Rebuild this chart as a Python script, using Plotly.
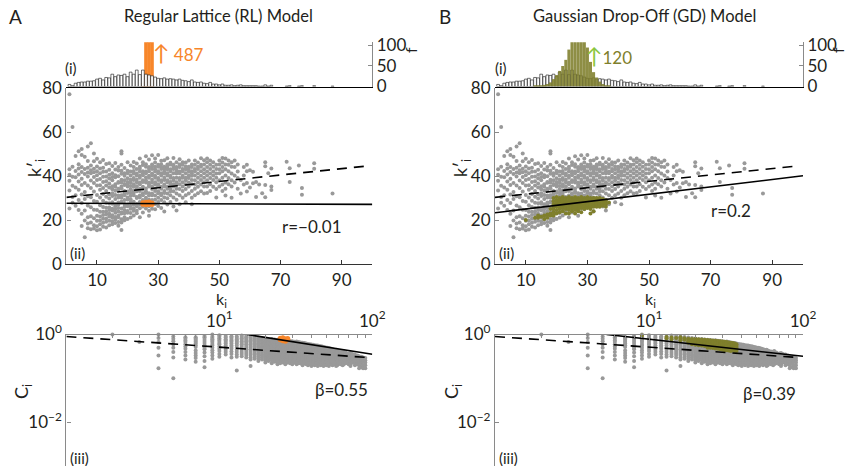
import plotly.graph_objects as go

# ---------------- data ----------------
# (i) degree histogram of the empirical network (white bars)
hist_k = list(range(1, 60)) + [60, 61, 62, 63, 64, 65, 66, 67, 72, 73, 76, 77, 81, 87]
hist_counts = [5, 2, 8, 10, 11, 11, 13, 13, 14, 18,
               20, 16, 22, 21, 30, 24, 28, 27, 30, 24,
               35, 30, 40, 29, 40, 30, 28, 26, 23, 20,
               19, 21, 18, 19, 18, 16, 18, 15, 14, 12,
               16, 11, 10, 11, 8, 7, 10, 6, 6, 4,
               6, 3, 3, 4, 2, 3, 4, 2, 2,
               2, 2, 2, 1, 1, 4, 1, 3, 1, 2, 1, 2, 2, 1]
# RL model degree histogram (orange)
rl_hist_k = [25, 26, 27, 28]
rl_hist_counts = [8, 310, 487, 190]
# GD model degree histogram (olive)
gd_hist_k = list(range(13, 38))
gd_hist_counts = [1, 2, 3, 4, 6, 10, 18, 28, 38, 50, 65, 90, 115, 120, 120,
                  118, 110, 95, 60, 35, 22, 12, 6, 3, 1]

# (ii) mean neighbour degree k'_i vs degree k_i (grey, empirical)
knn_k = list(range(1, 68)) + [72, 73, 76, 77, 81, 87]
knn_vals = [
    [77.2, 43.1, 40.6, 37.8, 33.4, 25.2],
    [62.3, 44.2, 39.7, 35.6, 30.4, 27.8],
    [49.1, 42.3, 39.4, 34.8, 31.2, 26.5],
    [51.2, 45.3, 43.4, 40.7, 37.5, 33.8, 29.1, 24.6],
    [52.3, 49.6, 44.1, 41.8, 38.7, 35.9, 31.6, 27.7, 22.8, 17.3],
    [48.7, 43.2, 40.9, 36.8, 32.7, 29.6, 24.3, 19.8, 12.2],
    [53.4, 46.8, 43.7, 41.6, 39.8, 35.7, 30.8, 26.6, 21.3, 16.2, 18.4],
    [54.9, 44.8, 42.6, 41.2, 37.9, 34.6, 30.3, 25.8, 21.7, 18.9, 15.8],
    [50.2, 46.7, 43.3, 41.7, 39.6, 36.8, 32.9, 28.6, 24.7, 20.8, 17.6, 16.1],
    [47.8, 44.3, 42.2, 40.3, 38.2, 35.7, 31.4, 28.3, 24.6, 21.9, 19.7, 17.2, 15.3],
    [46.2, 43.4, 41.3, 38.6, 35.8, 33.7, 30.2, 26.7, 23.8, 21.6, 19.8, 18.1, 15.7],
    [47.3, 43.8, 41.9, 39.7, 37.3, 34.6, 31.8, 28.7, 25.9, 23.7, 22.3, 20.6, 18.8, 16.9],
    [45.4, 42.1, 39.8, 37.6, 35.7, 33.2, 30.6, 27.8, 25.6, 23.9, 22.6, 20.7, 19.2, 16.6],
    [45.8, 42.8, 40.6, 38.9, 36.6, 34.8, 31.7, 29.8, 27.6, 25.7, 24.6, 22.8, 21.6, 19.7, 17.6],
    [44.6, 41.2, 39.5, 38.1, 35.3, 34.0, 32.2, 30.9, 28.1, 27.4, 25.1, 24.3, 22.2, 21.0, 19.3, 18.1],
    [45.9, 43.0, 40.3, 39.4, 36.2, 35.1, 33.3, 31.4, 29.5, 27.2, 26.3, 24.9, 23.3, 21.4, 20.2, 18.6],
    [44.1, 42.5, 39.9, 37.3, 36.9, 34.2, 33.9, 31.1, 30.2, 28.0, 27.1, 25.5, 23.9, 22.0, 21.3, 19.1, 17.4],
    [51.3, 50.2, 45.1, 42.4, 41.0, 38.3, 37.1, 35.2, 34.4, 31.2, 30.1, 28.3, 27.9, 25.2, 23.4, 22.9, 20.3, 18.9, 15.4],
    [43.6, 41.3, 40.1, 38.1, 36.4, 35.9, 33.2, 32.0, 31.2, 29.1, 27.3, 26.0, 24.4, 23.1, 21.2, 19.9],
    [46.2, 42.4, 41.2, 39.0, 37.3, 36.1, 35.2, 33.0, 32.3, 30.2, 29.3, 27.1, 26.2, 24.1, 23.3, 20.4],
    [44.8, 42.0, 40.2, 38.3, 37.0, 35.4, 34.0, 32.4, 31.0, 29.4, 28.1, 26.4, 25.1, 23.2, 21.1],
    [46.4, 44.1, 42.3, 41.1, 39.1, 38.2, 36.2, 35.1, 33.2, 32.4, 31.2, 28.3, 27.1, 25.3, 24.2, 22.1],
    [45.7, 43.2, 41.1, 40.2, 38.3, 37.2, 35.3, 34.1, 33.1, 30.4, 30.0, 27.3, 26.2, 24.2, 23.1],
    [48.0, 44.2, 43.3, 42.1, 40.1, 39.2, 37.1, 36.3, 34.2, 33.2, 31.1, 30.2, 28.2, 27.1, 25.3, 21.3],
    [46.2, 45.0, 42.2, 41.3, 40.3, 38.1, 37.3, 35.1, 34.1, 32.2, 31.3, 29.1, 28.1, 26.1, 23.4],
    [49.0, 45.3, 44.2, 42.1, 41.2, 39.3, 38.1, 37.1, 34.3, 33.1, 32.3, 30.1, 29.2, 27.2, 25.2],
    [47.5, 44.1, 43.3, 42.2, 40.1, 39.2, 37.0, 36.1, 35.2, 32.2, 31.1, 29.2, 28.0, 26.3, 24.2, 21.9],
    [49.4, 45.2, 44.3, 43.2, 41.1, 40.2, 38.3, 37.1, 35.2, 34.1, 32.1, 31.2, 29.1, 27.2, 25.1],
    [47.9, 46.1, 44.2, 43.1, 42.1, 40.1, 39.2, 37.2, 36.1, 34.2, 33.2, 31.1, 29.2, 27.3, 24.9],
    [49.6, 45.1, 44.2, 42.2, 41.2, 39.1, 38.2, 36.2, 35.3, 33.1, 32.2, 30.1, 28.2, 26.4],
    [46.9, 45.3, 44.1, 43.2, 41.3, 40.2, 38.1, 37.3, 35.1, 34.2, 32.1, 31.2, 29.1, 25.4],
    [47.2, 44.2, 43.3, 42.1, 41.1, 39.2, 38.2, 36.1, 35.2, 33.2, 32.3, 30.2, 28.1, 23.9],
    [48.1, 45.2, 44.2, 43.1, 41.2, 40.2, 38.1, 37.2, 35.1, 34.2, 32.1, 29.9, 27.1],
    [46.0, 45.2, 43.1, 42.2, 40.1, 39.2, 37.3, 36.1, 34.2, 33.1, 31.2, 28.2],
    [48.2, 45.1, 44.2, 43.2, 41.2, 39.1, 38.1, 36.2, 35.2, 33.1, 30.2, 26.1],
    [46.2, 44.1, 43.2, 42.1, 41.1, 39.2, 37.2, 36.1, 34.2, 32.1, 29.2, 24.3],
    [47.6, 45.2, 44.1, 42.1, 41.2, 39.1, 38.2, 36.2, 34.1, 31.2, 27.2],
    [46.2, 45.1, 43.2, 42.2, 40.1, 39.2, 37.2, 35.2, 33.2, 30.1],
    [46.1, 44.3, 43.1, 41.2, 39.2, 38.1, 36.2, 34.1, 31.2, 28.1],
    [47.1, 44.2, 43.2, 42.1, 40.2, 39.1, 37.1, 35.2, 32.1],
    [45.2, 44.1, 42.2, 41.2, 40.1, 38.2, 36.2, 33.2, 30.1, 27.2],
    [47.0, 45.1, 43.2, 42.2, 40.2, 38.1, 36.1, 34.2, 31.2],
    [46.1, 44.2, 43.2, 41.1, 39.2, 37.1, 35.1, 32.2],
    [48.1, 45.1, 44.2, 42.2, 40.1, 38.2, 36.1, 33.1],
    [47.2, 45.2, 43.1, 41.2, 39.2, 37.2, 35.2, 32.1],
    [48.0, 46.2, 44.1, 42.1, 40.2, 38.1, 35.2, 32.3],
    [47.1, 45.1, 43.2, 41.1, 39.1, 36.2, 33.2],
    [46.2, 44.2, 42.1, 40.2, 38.2, 35.1],
    [45.1, 43.2, 41.1, 39.2, 37.2, 34.1, 30.2],
    [47.1, 45.2, 43.1, 41.2, 38.1, 35.2],
    [48.2, 46.1, 44.1, 42.2, 39.2, 36.1, 33.2],
    [48.0, 45.2, 43.1, 40.2, 37.1, 34.2, 31.1],
    [47.1, 45.1, 42.2, 39.1, 36.2],
    [46.2, 44.2, 41.1, 38.1, 35.2, 30.1],
    [47.1, 44.1, 40.2, 37.1],
    [45.2, 42.1, 39.1, 34.2],
    [38.2, 32.1],
    [44.1, 40.2, 36.1],
    [45.1, 42.2, 36.8, 32.9],
    [42.6, 34.8],
    [41.9, 36.7],
    [37.3, 30.4],
    [36.1],
    [32.2],
    [46.3, 44.4, 35.9, 30.3],
    [41.2],
    [43.4, 35.2, 33.6],
    [46.5], [43.5, 37.3], [44.8], [34.5, 31.5], [45.8, 43.3], [32.0],
]
# RL model nodes (orange) and GD model nodes (olive)
rl_k = [25, 25, 26, 26, 26, 27, 27, 27, 28, 28]
rl_knn = [27.2, 27.8, 26.9, 27.5, 28.1, 27.0, 27.6, 28.2, 27.1, 27.7]
gd_k_cols = [10, 13, 14, 15, 16, 17, 18, 19, 20, 21, 22, 23, 24, 25, 26, 27,
             28, 29, 30, 31, 32, 33, 34, 35, 36, 37]
gd_knn_vals = [
    [20], [21], [21, 22], [21.5], [22, 20.5], [22.5, 21], [23, 22, 25],
    [30, 28.5, 27, 26, 25, 23.5, 22],
    [30.5, 29, 28, 27, 26, 24.5, 23],
    [30, 29, 28, 27, 26, 25, 23.5],
    [30.5, 29.5, 28.5, 27.5, 26.5, 25.5, 24],
    [30, 29, 28, 27, 26, 25, 23],
    [30.5, 29.5, 28.5, 27.5, 26.5, 25.5, 24.5, 23],
    [30, 29, 28, 27, 26, 25, 24],
    [30.5, 29.5, 28.5, 27.5, 26.5, 25.5, 24.5, 23],
    [30, 29, 28, 27, 26, 25, 24],
    [30.5, 29.5, 28.5, 27.5, 26.5, 25.5, 23.5],
    [30, 29, 28, 27, 26, 25],
    [30.5, 29.5, 28.5, 27.5, 26.5, 25.5],
    [30, 29, 28, 27, 26, 25, 23],
    [30, 29, 28, 27, 26, 24],
    [30, 29, 28, 27, 26],
    [30, 29, 28, 27, 26],
    [29.5, 28.5, 27.5, 26.5],
    [29, 28, 27, 26],
    [28],
]

# (iii) clustering coefficient C_i vs k_i (grey, empirical)
clu_k = list(range(2, 61)) + [62, 64, 65, 67, 70, 72, 74, 77, 80, 82, 85, 87, 90]
clu_vals = [
    [1.0], [0.67],
    [1.0, 0.83, 0.67, 0.5, 0.33, 0.17],
    [0.9, 0.8, 0.7, 0.6, 0.5, 0.4, 0.3, 0.1],
    [0.87, 0.8, 0.73, 0.67, 0.6, 0.53, 0.47, 0.4, 0.33, 0.27],
    [0.86, 0.81, 0.76, 0.71, 0.67, 0.62, 0.57, 0.52, 0.43, 0.38, 0.33, 0.29, 0.24],
    [0.93, 0.86, 0.79, 0.71, 0.64, 0.57, 0.5, 0.46, 0.39, 0.32, 0.25, 0.18],
    [1.0, 0.89, 0.83, 0.78, 0.72, 0.67, 0.61, 0.56, 0.5, 0.44, 0.39, 0.33, 0.28],
    [0.96, 0.89, 0.82, 0.76, 0.71, 0.64, 0.6, 0.53, 0.47, 0.42, 0.36, 0.31],
    [0.93, 0.85, 0.78, 0.73, 0.67, 0.62, 0.56, 0.51, 0.45, 0.4, 0.35],
    [0.91, 0.85, 0.79, 0.73, 0.68, 0.62, 0.56, 0.52, 0.47, 0.41, 0.36, 0.3],
    [0.9, 0.83, 0.77, 0.72, 0.67, 0.62, 0.56, 0.5, 0.45, 0.4, 0.35, 0.31, 0.15],
    [0.95, 0.88, 0.82, 0.76, 0.7, 0.65, 0.6, 0.55, 0.5, 0.45, 0.4, 0.36, 0.32],
    [0.92, 0.86, 0.8, 0.75, 0.7, 0.65, 0.6, 0.55, 0.5, 0.46, 0.42, 0.38, 0.34, 0.3],
    [0.9, 0.84, 0.79, 0.74, 0.69, 0.64, 0.59, 0.55, 0.5, 0.46, 0.42, 0.38, 0.34, 0.3, 0.27, 0.19],
    [0.88, 0.82, 0.77, 0.72, 0.67, 0.63, 0.58, 0.54, 0.5, 0.46, 0.42, 0.38, 0.35, 0.31, 0.28],
    [0.85, 0.79, 0.73, 0.68, 0.64, 0.6, 0.56, 0.52, 0.48, 0.44, 0.41, 0.37, 0.34, 0.31, 0.28, 0.25],
    [0.83, 0.77, 0.72, 0.67, 0.63, 0.58, 0.54, 0.51, 0.47, 0.43, 0.4, 0.36, 0.33, 0.3, 0.27],
    [0.81, 0.75, 0.7, 0.66, 0.61, 0.57, 0.53, 0.49, 0.46, 0.42, 0.39, 0.35, 0.32, 0.29, 0.26, 0.23],
    [0.78, 0.73, 0.68, 0.64, 0.59, 0.55, 0.52, 0.48, 0.44, 0.41, 0.37, 0.34, 0.31, 0.28, 0.25],
    [0.79, 0.74, 0.69, 0.65, 0.6, 0.56, 0.53, 0.49, 0.45, 0.42, 0.38, 0.35, 0.32, 0.29, 0.26, 0.22],
    [0.77, 0.71, 0.67, 0.62, 0.58, 0.54, 0.51, 0.47, 0.43, 0.4, 0.36, 0.33, 0.3, 0.27, 0.24],
    [0.76, 0.7, 0.66, 0.61, 0.57, 0.53, 0.5, 0.46, 0.42, 0.39, 0.36, 0.33, 0.3, 0.27, 0.23, 0.21],
    [0.75, 0.7, 0.65, 0.61, 0.57, 0.53, 0.49, 0.46, 0.43, 0.39, 0.36, 0.33, 0.3, 0.27, 0.24, 0.22],
    [0.73, 0.68, 0.64, 0.6, 0.56, 0.52, 0.48, 0.45, 0.41, 0.38, 0.35, 0.32, 0.29, 0.26, 0.23],
    [0.74, 0.69, 0.64, 0.6, 0.56, 0.52, 0.49, 0.45, 0.42, 0.39, 0.36, 0.33, 0.3, 0.27, 0.24, 0.21],
    [0.72, 0.67, 0.63, 0.59, 0.55, 0.51, 0.47, 0.44, 0.41, 0.38, 0.35, 0.32, 0.29, 0.26, 0.23],
    [0.71, 0.66, 0.62, 0.58, 0.54, 0.5, 0.47, 0.43, 0.4, 0.37, 0.34, 0.31, 0.28, 0.25, 0.22],
    [0.7, 0.65, 0.61, 0.57, 0.53, 0.49, 0.45, 0.42, 0.39, 0.36, 0.33, 0.3, 0.27, 0.24, 0.21],
    [0.68, 0.64, 0.6, 0.56, 0.52, 0.48, 0.45, 0.41, 0.38, 0.35, 0.32, 0.29, 0.26, 0.23],
    [0.69, 0.64, 0.6, 0.56, 0.52, 0.48, 0.44, 0.41, 0.38, 0.35, 0.32, 0.29, 0.26, 0.24, 0.21],
    [0.67, 0.62, 0.58, 0.54, 0.5, 0.47, 0.43, 0.4, 0.37, 0.34, 0.31, 0.28, 0.25, 0.22],
    [0.66, 0.61, 0.57, 0.53, 0.49, 0.45, 0.42, 0.39, 0.36, 0.33, 0.3, 0.27, 0.24, 0.22],
    [0.65, 0.6, 0.56, 0.52, 0.48, 0.45, 0.41, 0.38, 0.35, 0.32, 0.29, 0.26, 0.23, 0.2],
    [0.64, 0.59, 0.55, 0.51, 0.47, 0.44, 0.4, 0.37, 0.34, 0.31, 0.28, 0.25, 0.22],
    [0.62, 0.58, 0.54, 0.5, 0.46, 0.43, 0.4, 0.36, 0.33, 0.3, 0.27, 0.24, 0.21],
    [0.61, 0.57, 0.53, 0.49, 0.45, 0.42, 0.38, 0.35, 0.32, 0.29, 0.26, 0.23, 0.2],
    [0.6, 0.56, 0.52, 0.48, 0.44, 0.41, 0.37, 0.34, 0.31, 0.28, 0.25, 0.22],
    [0.59, 0.55, 0.51, 0.47, 0.43, 0.4, 0.37, 0.34, 0.31, 0.28, 0.25, 0.22, 0.19],
    [0.58, 0.54, 0.5, 0.46, 0.43, 0.39, 0.36, 0.33, 0.3, 0.27, 0.24, 0.21],
    [0.57, 0.53, 0.49, 0.45, 0.42, 0.38, 0.35, 0.32, 0.29, 0.26, 0.23, 0.2],
    [0.56, 0.52, 0.48, 0.44, 0.41, 0.37, 0.34, 0.31, 0.28, 0.25, 0.22],
    [0.56, 0.52, 0.48, 0.44, 0.4, 0.37, 0.34, 0.31, 0.28, 0.25, 0.22, 0.19],
    [0.55, 0.51, 0.47, 0.43, 0.39, 0.36, 0.33, 0.3, 0.27, 0.24, 0.21],
    [0.54, 0.5, 0.46, 0.42, 0.38, 0.35, 0.32, 0.29, 0.26, 0.23, 0.2],
    [0.53, 0.49, 0.45, 0.41, 0.38, 0.34, 0.31, 0.28, 0.25, 0.22],
    [0.52, 0.48, 0.44, 0.4, 0.37, 0.34, 0.31, 0.28, 0.25, 0.22, 0.19],
    [0.51, 0.47, 0.43, 0.39, 0.36, 0.33, 0.3, 0.27, 0.24, 0.21],
    [0.5, 0.46, 0.42, 0.39, 0.35, 0.32, 0.29, 0.26, 0.23, 0.2],
    [0.5, 0.45, 0.41, 0.38, 0.35, 0.32, 0.29, 0.26, 0.23],
    [0.49, 0.45, 0.41, 0.37, 0.34, 0.31, 0.28, 0.25, 0.22, 0.19],
    [0.48, 0.44, 0.4, 0.36, 0.33, 0.3, 0.27, 0.24, 0.21],
    [0.47, 0.43, 0.39, 0.36, 0.33, 0.3, 0.27, 0.24, 0.21],
    [0.46, 0.42, 0.38, 0.35, 0.32, 0.29, 0.26, 0.23, 0.2],
    [0.45, 0.41, 0.37, 0.34, 0.31, 0.28, 0.25, 0.22],
    [0.44, 0.4, 0.36, 0.33, 0.3, 0.27, 0.24, 0.21],
    [0.45, 0.41, 0.37, 0.33, 0.3, 0.27, 0.24, 0.21, 0.19],
    [0.43, 0.39, 0.35, 0.32, 0.29, 0.26, 0.23, 0.2],
    [0.42, 0.38, 0.34, 0.31, 0.28, 0.25, 0.22],
    [0.41, 0.37, 0.33, 0.3, 0.27, 0.24, 0.21],
    [0.4, 0.36, 0.32, 0.29, 0.26, 0.23, 0.2],
    [0.42, 0.37, 0.33, 0.3, 0.27, 0.24, 0.21],
    [0.39, 0.35, 0.31, 0.28, 0.25, 0.22],
    [0.37, 0.33, 0.3, 0.27, 0.24, 0.21],
    [0.38, 0.34, 0.3, 0.27, 0.24, 0.21, 0.19],
    [0.36, 0.32, 0.29, 0.26, 0.23],
    [0.35, 0.31, 0.28, 0.25, 0.22, 0.2],
    [0.33, 0.3, 0.27, 0.24, 0.21],
    [0.32, 0.29, 0.26, 0.23, 0.2, 0.17],
    [0.31, 0.28, 0.25, 0.22, 0.18],
    [0.3, 0.27, 0.24, 0.2, 0.17],
    [0.29, 0.26, 0.23, 0.2, 0.17],
]
rl_clu_k = [25, 25, 26, 26, 26, 27, 27, 27, 28, 28]
rl_clu = [0.76, 0.82, 0.72, 0.78, 0.84, 0.74, 0.8, 0.7, 0.76, 0.81]
gd_clu_k = [9, 13, 14, 15, 16, 17, 18, 19, 20, 21, 22, 23, 24, 25, 26, 27,
            28, 29, 30, 31, 32, 33, 34, 35, 36, 37]
gd_clu_vals = [
    [0.95], [0.88, 0.82], [0.85, 0.78], [0.83], [0.86, 0.8, 0.74], [0.82, 0.76],
    [0.8, 0.75, 0.7, 0.65],
    [0.79, 0.74, 0.69, 0.64, 0.6],
    [0.8, 0.75, 0.7, 0.66, 0.62, 0.58],
    [0.78, 0.73, 0.69, 0.65, 0.61, 0.57],
    [0.77, 0.72, 0.68, 0.64, 0.6, 0.56],
    [0.76, 0.71, 0.67, 0.63, 0.59, 0.55],
    [0.75, 0.7, 0.66, 0.62, 0.58, 0.54, 0.5],
    [0.74, 0.69, 0.65, 0.61, 0.57, 0.53, 0.5],
    [0.73, 0.68, 0.64, 0.6, 0.56, 0.52, 0.49],
    [0.72, 0.67, 0.63, 0.59, 0.55, 0.52, 0.48],
    [0.71, 0.66, 0.62, 0.58, 0.54, 0.51, 0.47],
    [0.7, 0.65, 0.61, 0.57, 0.53, 0.5, 0.46],
    [0.69, 0.64, 0.6, 0.56, 0.52, 0.49, 0.45],
    [0.68, 0.63, 0.59, 0.55, 0.51, 0.48, 0.44],
    [0.67, 0.62, 0.58, 0.54, 0.5, 0.47, 0.44],
    [0.66, 0.61, 0.57, 0.53, 0.49, 0.46, 0.43],
    [0.65, 0.6, 0.56, 0.52, 0.48, 0.45, 0.42],
    [0.64, 0.59, 0.55, 0.51, 0.47, 0.44],
    [0.62, 0.57, 0.53, 0.49, 0.45, 0.42],
    [0.6, 0.55, 0.5, 0.46, 0.42],
]

# fitted lines: k' = a + b*k (panel ii); C = c0 * k^(-beta) (panel iii)
knn_fit_emp = (30.3, 0.145)        # dashed (empirical)
knn_fit_rl = (27.6, -0.005)        # solid, RL
knn_fit_gd = (23.3, 0.168)         # solid, GD
clu_fit_emp = (0.9, 0.243)         # dashed (empirical)
clu_fit_rl = (4.47, 0.55)          # solid, RL (beta = 0.55)
clu_fit_gd = (1.92, 0.39)          # solid, GD (beta = 0.39)
line_k = [0, 100]
dash_k = [0, 98]
pow_k_emp = [1, 2, 5, 10, 20, 50, 92]
pow_k_rl = [15.2, 20, 30, 50, 70, 100]
pow_k_gd = [5.3, 10, 20, 50, 100]

# ---------------- helpers ----------------
def flatten(ks, cols):
    xs, ys = [], []
    for k, col in zip(ks, cols):
        for v in col:
            xs.append(k)
            ys.append(v)
    return xs, ys

gray_x, gray_y = flatten(knn_k, knn_vals)
gd_x, gd_y = flatten(gd_k_cols, gd_knn_vals)
cgray_x, cgray_y = flatten(clu_k, clu_vals)
cgd_x, cgd_y = flatten(gd_clu_k, gd_clu_vals)

TXT = "#231f20"
GRAY = "#999999"
AXG = "#8a8a8a"
ORANGE = "#f7862a"
OLIVE = "#7f7f2c"
LGREEN = "#8cc63f"
FONT = "Lato"

W, H = 850, 466
def px(x):
    return x / W
def py(y):
    return 1 - y / H

fig = go.Figure()

panels = [
    dict(suffix=("", "2", "3"), hk=rl_hist_k, hc=rl_hist_counts, hcol=ORANGE,
         sk=rl_k, sv=rl_knn, ck=rl_clu_k, cv=rl_clu, knnfit=knn_fit_rl,
         clufit=clu_fit_rl, powk=pow_k_rl, msize=5),
    dict(suffix=("4", "5", "6"), hk=gd_hist_k, hc=gd_hist_counts, hcol=OLIVE,
         sk=gd_x, sv=gd_y, ck=cgd_x, cv=cgd_y, knnfit=knn_fit_gd,
         clufit=clu_fit_gd, powk=pow_k_gd, msize=4),
]

white_bar = dict(color="white", line=dict(color="#111111", width=0.6))
for i, p in enumerate(panels):
    s1, s2, s3 = p["suffix"]
    xa1, ya1 = "x" + s1, "y" + s1
    xa2, ya2 = "x" + s2, "y" + s2
    xa3, ya3 = "x" + s3, "y" + s3
    # (i) histograms
    if i == 0:
        fig.add_trace(go.Bar(x=p["hk"], y=p["hc"], width=1.15, marker=dict(color=p["hcol"], line=dict(width=0)),
                             xaxis=xa1, yaxis=ya1))
        fig.add_trace(go.Bar(x=hist_k, y=hist_counts, width=0.9, marker=white_bar,
                             xaxis=xa1, yaxis=ya1))
    else:
        fig.add_trace(go.Bar(x=hist_k, y=hist_counts, width=0.9, marker=white_bar,
                             xaxis=xa1, yaxis=ya1))
        fig.add_trace(go.Bar(x=p["hk"], y=p["hc"], width=1.0, opacity=0.88,
                             marker=dict(color=p["hcol"], line=dict(width=0)),
                             xaxis=xa1, yaxis=ya1))
    # (ii) k' vs k
    fig.add_trace(go.Scatter(x=gray_x, y=gray_y, mode="markers", cliponaxis=False,
                             marker=dict(size=4, color=GRAY), xaxis=xa2, yaxis=ya2))
    fig.add_trace(go.Scatter(x=p["sk"], y=p["sv"], mode="markers", cliponaxis=False,
                             marker=dict(size=p["msize"], color=p["hcol"]), xaxis=xa2, yaxis=ya2))
    a, b = knn_fit_emp
    fig.add_trace(go.Scatter(x=dash_k, y=[a + b * k for k in dash_k], mode="lines",
                             line=dict(color="black", width=1.6, dash="10px,7px"), xaxis=xa2, yaxis=ya2))
    a, b = p["knnfit"]
    fig.add_trace(go.Scatter(x=line_k, y=[a + b * k for k in line_k], mode="lines",
                             line=dict(color="black", width=1.6), xaxis=xa2, yaxis=ya2))
    # (iii) C vs k (log-log)
    fig.add_trace(go.Scatter(x=cgray_x, y=cgray_y, mode="markers", cliponaxis=False,
                             marker=dict(size=4, color=GRAY), xaxis=xa3, yaxis=ya3))
    fig.add_trace(go.Scatter(x=p["ck"], y=p["cv"], mode="markers", cliponaxis=False,
                             marker=dict(size=p["msize"], color=p["hcol"]), xaxis=xa3, yaxis=ya3))
    c0, be = clu_fit_emp
    fig.add_trace(go.Scatter(x=pow_k_emp, y=[c0 * k ** (-be) for k in pow_k_emp], mode="lines",
                             line=dict(color="black", width=1.6, dash="10px,7px"), xaxis=xa3, yaxis=ya3))
    c0, be = p["clufit"]
    fig.add_trace(go.Scatter(x=p["powk"], y=[c0 * k ** (-be) for k in p["powk"]], mode="lines",
                             line=dict(color="black", width=1.6), xaxis=xa3, yaxis=ya3))

tickfont = dict(family=FONT, size=17, color=TXT)
xdom = [[px(66.4), px(372.3)], [px(495), px(803)]]
hist_dom = [py(86.5), py(42.2)]
sc_dom = [py(264), py(88)]
log_dom = [0, py(334.5)]

layout = dict(
    template="none",
    width=W, height=H, margin=dict(l=0, r=0, t=0, b=0, pad=0, autoexpand=False),
    paper_bgcolor="white", plot_bgcolor="white", showlegend=False,
    barmode="overlay", font=dict(family=FONT, color=TXT),
)
common = dict(showgrid=False, zeroline=False, automargin=False)
for i, (s1, s2, s3) in enumerate([("", "2", "3"), ("4", "5", "6")]):
    dom = xdom[i]
    layout["xaxis" + s1] = dict(domain=dom, range=[0, 100], anchor="y" + s1, showline=True,
                                linecolor="black", linewidth=1, showticklabels=False, ticks="", **common)
    layout["yaxis" + s1] = dict(domain=hist_dom, range=[0, 108], anchor="x" + s1, side="right",
                                showline=True, linecolor=AXG, linewidth=1, ticks="inside", ticklen=4,
                                tickcolor=AXG, tickvals=[0, 50, 100], tickfont=tickfont, **common)
    layout["xaxis" + s2] = dict(domain=dom, range=[0, 100], anchor="y" + s2, showline=True,
                                linecolor="#333333", linewidth=1.2, ticks="inside", ticklen=4,
                                tickcolor="#333333", tickvals=[10, 30, 50, 70, 90], tickfont=tickfont,
                                **common)
    layout["yaxis" + s2] = dict(domain=sc_dom, range=[0, 80], anchor="x" + s2, showline=True,
                                linecolor=AXG, linewidth=1.2, ticks="inside", ticklen=4, tickcolor=AXG,
                                tickvals=[0, 20, 40, 60, 80], tickfont=tickfont, **common)
    layout["xaxis" + s3] = dict(domain=dom, type="log", range=[0, 2], anchor="y" + s3, side="top",
                                showline=True, linecolor=AXG, linewidth=1.2, ticks="inside", ticklen=5,
                                tickcolor=AXG, tickvals=[1, 10, 100],
                                ticktext=["", "10<sup>1</sup>", "10<sup>2</sup>"], tickfont=tickfont,
                                minor=dict(ticks="inside", ticklen=3, tickcolor=AXG,
                                           tickvals=[2, 3, 4, 5, 6, 7, 8, 9, 20, 30, 40, 50, 60, 70, 80, 90]),
                                **common)
    layout["yaxis" + s3] = dict(domain=log_dom, type="log", range=[-3, 0], anchor="x" + s3,
                                showline=True, linecolor=AXG, linewidth=1.2, ticks="inside", ticklen=4,
                                tickcolor=AXG, tickvals=[1, 0.01],
                                ticktext=["10<sup>0</sup>", "10<sup>\u22122</sup>"], tickfont=tickfont,
                                **common)
fig.update_layout(**layout)

def ann(text, x, y, size=16, color=TXT, angle=0, xanchor="center"):
    fig.add_annotation(text=text, x=px(x), y=py(y), xref="paper", yref="paper",
                       showarrow=False, xanchor=xanchor, yanchor="middle", textangle=angle,
                       font=dict(family=FONT, size=size, color=color))

ann("A", 16, 16, size=19)
ann("B", 445, 16, size=19)
ann("Regular Lattice (RL) Model", 218, 16, size=16.5)
ann("Gaussian Drop-Off (GD) Model", 644, 16, size=16.5)
ann("<span style='font-size:22px'>\u2191</span> 487", 178, 53, size=17, color=ORANGE)
ann("<span style='color:" + LGREEN + ";font-size:22px'>\u2191</span>120", 609, 56, size=17, color=OLIVE)
for xo in (0, 429):
    ann("(i)", 71 + xo + (1 if xo else 0), 68, size=15)
    ann("(ii)", 77 + xo, 253, size=15)
    ann("(iii)", 79 + xo, 458, size=15)
    ann("f", 411 + xo - (2 if xo else 0), 50, size=16, angle=-90)
    ann("k<sub>i</sub>", 221 + xo, 299, size=16)
ann("k\u2032<sub>i</sub>", 36, 168, size=18, angle=-90)
ann("k\u2032<sub>i</sub>", 462, 168, size=18, angle=-90)
ann("C<sub>i</sub>", 22, 392, size=18, angle=-90)
ann("C<sub>i</sub>", 452, 392, size=18, angle=-90)
ann("r=\u22120.01", 312, 226, size=17)
ann("r=0.2", 731, 211, size=17)
ann("\u03b2=0.55", 341, 389, size=17)
ann("\u03b2=0.39", 769, 393, size=17)

fig.write_html("out.html")
